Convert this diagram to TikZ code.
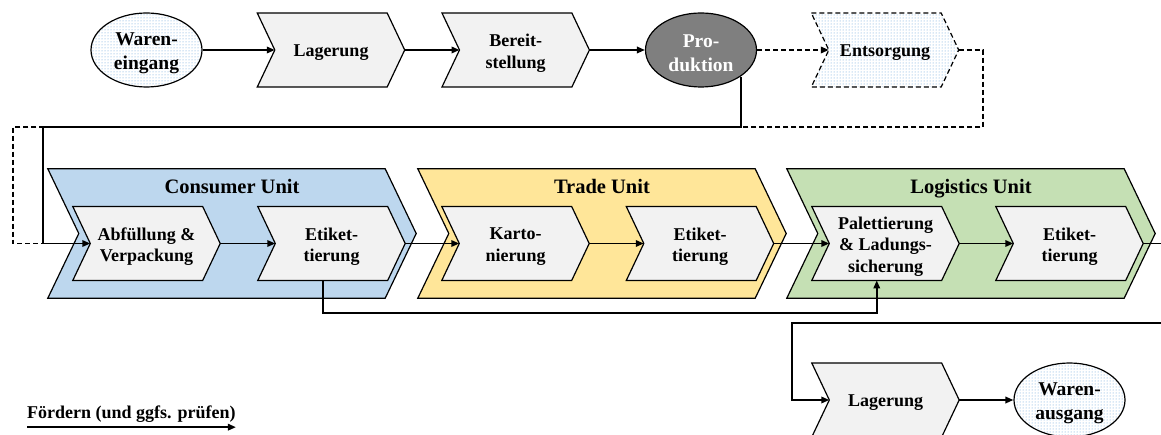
\documentclass[tikz,border=0pt]{standalone}
\usepackage{fontspec}
\setmainfont{Liberation Serif}
\usetikzlibrary{arrows.meta,shapes.geometric,patterns,backgrounds}

\definecolor{boxgray}{HTML}{F2F2F2}
\definecolor{cublue}{HTML}{BDD7EE}
\definecolor{tuyellow}{HTML}{FFE699}
\definecolor{lugreen}{HTML}{C5E0B4}
\definecolor{prodgray}{HTML}{7F7F7F}
\definecolor{dotblue}{HTML}{5B9BD5}

\pgfdeclarelayer{units}
\pgfdeclarelayer{shapes}
\pgfsetlayers{units,shapes,main}

\newcommand\boxfont{\fontsize{18}{21.5}\selectfont\bfseries}
\newcommand\ellfont{\fontsize{19.5}{24}\selectfont\bfseries}
\newcommand\unittitlefont{\fontsize{20.5}{24}\selectfont\bfseries}

\tikzset{
  stepbox/.style={rectangle, minimum width=147pt, minimum height=73.5pt, inner sep=0pt},
  unitbox/.style={rectangle, minimum width=368pt, minimum height=129pt, inner sep=0pt},
  steplabel/.style={inner sep=0pt, align=center, font=\boxfont},
  ovallabel/.style={inner sep=0pt, align=center, font=\ellfont},
  outline/.style={draw=black, line width=1.2pt, line join=miter},
  grayfill/.style={outline, fill=boxgray},
  dotfill/.style={pattern=dots, pattern color=dotblue},
  oval/.style={ellipse, draw=black, line width=1.2pt, minimum width=111pt,
    minimum height=74pt, inner sep=0pt},
  unittitle/.style={anchor=base, inner sep=0pt, font=\unittitlefont},
  conn/.style={draw=black, line width=1.8pt},
  arr/.style={conn, -{Triangle[length=8pt,width=6.5pt]}},
  dashes/.style={dash pattern=on 5pt off 3pt},
  dashconn/.style={conn, dashes},
}

% chevron outline: notch on the left, point on the right
% #1 name, #2 centre, #3 outline style, #4 node style, #5 depth, #6 layer
\newcommand\makechevron[6]{%
  \node[#4] (#1) at #2 {};
  \coordinate (#1-in) at ([xshift=#5]#1.west);
  \coordinate (#1-bot) at ([xshift=-#5/2]#1.south);
  \begin{pgfonlayer}{#6}
    \path[#3] (#1.north west) -- ([xshift=-#5]#1.north east) -- (#1.east)
      -- ([xshift=-#5]#1.south east) -- (#1.south west) -- (#1-in) -- cycle;
  \end{pgfonlayer}}
% process step: #1 name, #2 centre, #3 text, #4 outline style
\newcommand\stepchev[4]{%
  \makechevron{#1}{#2}{#4}{stepbox}{17.5pt}{shapes}%
  \node[steplabel] (#1-label) at ([yshift=-3pt]#1.center) {#3};}
% packaging unit: #1 name, #2 centre, #3 fill colour, #4 title
\newcommand\unitchev[4]{%
  \makechevron{#1}{#2}{outline,fill=#3}{unitbox}{31pt}{units}%
  \node[unittitle] (#1-title) at ([yshift=-25pt]#1.north) {#4};}
% start/end event: #1 name, #2 centre, #3 text, #4 extra style
\newcommand\event[4]{%
  \node[oval, #4] (#1) at #2 {};
  \node[ovallabel] (#1-label) at ([yshift=-3pt]#1.center) {#3};}

\begin{document}
\begin{tikzpicture}[x=1pt,y=-1pt]
\useasboundingbox (0,0) rectangle (1161,435);

% ---- packaging units ----
\unitchev{cu}{(232,233.5)}{cublue}{Consumer Unit}
\unitchev{tu}{(602,233.5)}{tuyellow}{Trade Unit}
\unitchev{lu}{(971,233.5)}{lugreen}{Logistics Unit}

% ---- upper row ----
\event{we}{(146.5,50)}{Waren-\\eingang}{dotfill}
\stepchev{lag1}{(331,50)}{Lagerung}{grayfill}
\stepchev{ber}{(515.7,50)}{Bereit-\\stellung}{grayfill}
\event{pro}{(701,50)}{\color{white}Pro-\\\color{white}duktion}{fill=prodgray}
\stepchev{ent}{(885,50)}{Entsorgung}{outline, dotfill, dashes}

% ---- middle row ----
\stepchev{abf}{(146.5,243.5)}{Abfüllung \&\\Verpackung}{grayfill}
\stepchev{etc1}{(331.5,243.5)}{Etiket-\\tierung}{grayfill}
\stepchev{kar}{(515.5,243.5)}{Karto-\\nierung}{grayfill}
\stepchev{etc2}{(700,243.5)}{Etiket-\\tierung}{grayfill}
\stepchev{pal}{(885.5,243.5)}{\baselineskip=20.5pt Palettierung\\\& Ladungs-\\sicherung}{grayfill}
\stepchev{etc3}{(1069.5,243.5)}{Etiket-\\tierung}{grayfill}

% ---- lower row ----
\stepchev{lag2}{(885.5,400)}{Lagerung}{grayfill}
\event{wa}{(1069.5,400)}{Waren-\\ausgang}{dotfill}

% ---- routing points ----
\coordinate (wr) at (983,127);
\coordinate (wl) at (13,127);
\coordinate (feed) at (43,127);
\coordinate (rout) at (1161,243.5);
\coordinate (low) at (0,313);
\coordinate (rin) at (1161,323);
\coordinate (turn) at (792,323);

% ---- connectors, upper row ----
\draw[arr] (we.east) -- (lag1-in);
\draw[arr] (lag1.east) -- (ber-in);
\draw[arr] (ber.east) -- (pro.west);
\draw[arr, dashes] (pro.east) -- (ent-in);
\draw[dashconn] (ent.east) -| (wr) -- (wl) |- (feed |- abf-in);
\draw[arr] (pro.south east) |- (feed) |- (abf-in);

% ---- connectors, middle row ----
\draw[arr] (abf.east) -- (etc1-in);
\draw[arr] (etc1.east) -- (kar-in);
\draw[arr] (kar.east) -- (etc2-in);
\draw[arr] (etc2.east) -- (pal-in);
\draw[arr] (pal.east) -- (etc3-in);
\draw[conn] (etc3.east) -- (rout);
\draw[arr] (etc1-bot) -- (etc1-bot |- low) -| (pal-bot);

% ---- connectors, lower row ----
\draw[arr] (rin) -- (turn) |- (lag2-in);
\draw[arr] (lag2.east) -- (wa.west);

% ---- legend ----
\node[anchor=base west, inner sep=0pt, font=\boxfont] (leg) at (27,418) {Fördern (und ggfs. prüfen)};
\draw[arr] ([yshift=-5pt]leg.south west) -- ([yshift=-5pt]leg.south east);
\end{tikzpicture}
\end{document}
